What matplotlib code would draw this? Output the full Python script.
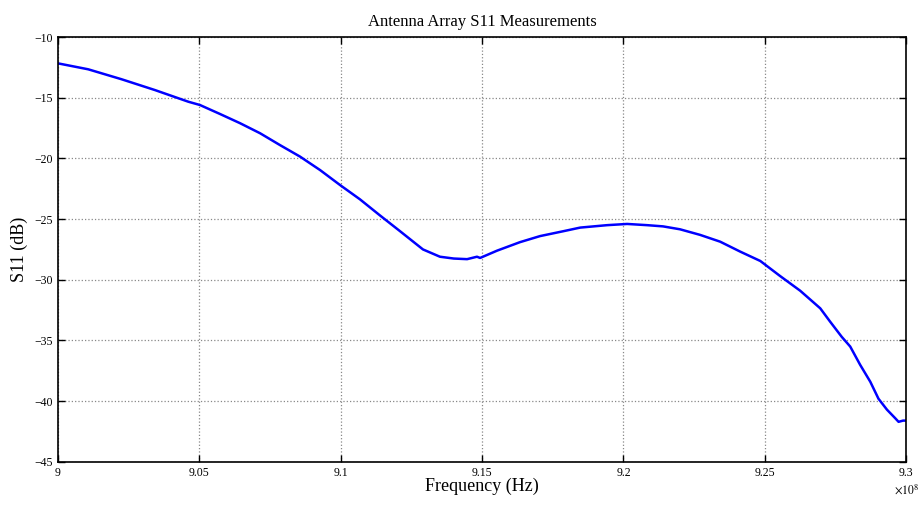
import numpy as np
import matplotlib
matplotlib.use('Agg')
import matplotlib.pyplot as plt
from matplotlib.ticker import FuncFormatter

plt.rcParams['font.family'] = ['Liberation Serif', 'DejaVu Serif']
plt.rcParams['mathtext.fontset'] = 'stix'

# frequency in units of 1e8 Hz, S11 in dB
freq_e8 = [9.0000, 9.0107, 9.0225, 9.0343, 9.0461, 9.0502, 9.0573, 9.0644, 9.0715, 9.0785,
           9.0856, 9.0927, 9.0998, 9.1068, 9.1139, 9.1210, 9.1291, 9.1351, 9.1400, 9.1447,
           9.1482, 9.1493, 9.1553, 9.1634, 9.1705, 9.1787, 9.1847, 9.1942, 9.2013, 9.2084,
           9.2140, 9.2200, 9.2271, 9.2342, 9.2413, 9.2484, 9.2554, 9.2625, 9.2696, 9.2731,
           9.2772, 9.2802, 9.2837, 9.2873, 9.2902, 9.2932, 9.2961, 9.2973, 9.2989, 9.3000]
s11_db = [-12.17, -12.66, -13.48, -14.37, -15.33, -15.6, -16.34, -17.1, -17.93, -18.9,
          -19.85, -20.96, -22.2, -23.37, -24.7, -26.0, -27.5, -28.1, -28.25, -28.3,
          -28.1, -28.2, -27.6, -26.9, -26.4, -26.0, -25.7, -25.5, -25.4, -25.5,
          -25.6, -25.84, -26.3, -26.86, -27.68, -28.45, -29.69, -30.9, -32.35, -33.45,
          -34.7, -35.5, -37.0, -38.4, -39.8, -40.7, -41.4, -41.7, -41.6, -41.6]

freq = np.array(freq_e8) * 1e8

fig = plt.figure(figsize=(9.2, 5.07), dpi=100)
ax = fig.add_axes([0.063, 0.089, 0.922, 0.838])

ax.plot(freq, s11_db, color='#0000ff', linewidth=1.8)

ax.set_xlim(9.0e8, 9.3e8)
ax.set_ylim(-45, -10)
ax.set_xticks(np.arange(9.0, 9.301, 0.05) * 1e8)
ax.set_yticks(np.arange(-45, -9, 5))
ax.xaxis.set_major_formatter(FuncFormatter(lambda v, p: '%g' % round(v / 1e8, 3)))
ax.yaxis.set_major_formatter(FuncFormatter(lambda v, p: ('%g' % v).replace('-', '\u2212')))

ax.tick_params(direction='in', top=True, right=True, length=5, width=1,
               labelsize=8.5, pad=4)
ax.grid(True, linestyle=':', color='#888888', linewidth=0.9)
for s in ax.spines.values():
    s.set_linewidth(1.2)

ax.text(1.0, -0.05, r'$\times10^{8}$', transform=ax.transAxes, fontsize=8.5,
        ha='center', va='top')

ax.set_title('Antenna Array S11 Measurements', fontsize=12, pad=8)
ax.set_xlabel('Frequency (Hz)', fontsize=13, labelpad=-1)
ax.set_ylabel('S11 (dB)', fontsize=13, labelpad=4)

fig.savefig('out.png', dpi=100)
